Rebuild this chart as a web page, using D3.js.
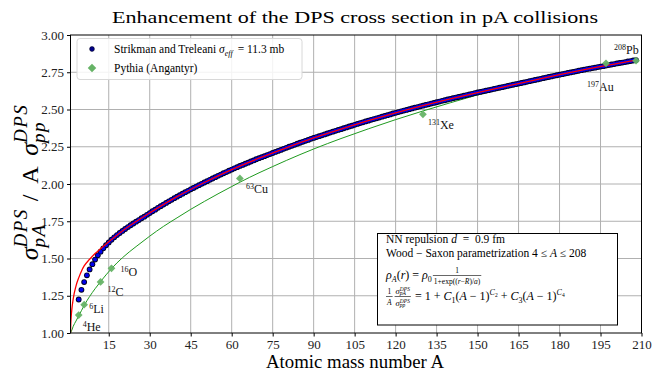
<!DOCTYPE html>
<html>
<head>
<meta charset="utf-8">
<script src="https://cdn.jsdelivr.net/npm/d3@7"></script>
<style>
  body { margin: 0; background: #fff; }
  text { font-family: "Liberation Serif", "DejaVu Serif", serif; white-space: pre; }
</style>
</head>
<body>
<svg id="chart" width="652" height="376" font-family="Liberation Serif, serif"></svg>
<script>
// Strikman-Treleani points, one per mass number A = 4 ... 208
const A_DOTS = d3.range(4, 209)
const RATIO_ST = [
  1.225, 1.290, 1.342, 1.387, 1.427, 1.462, 1.493, 1.521, 1.546, 1.568, 1.589, 1.608, 1.626, 1.642, 1.657, 1.671, 1.685,
  1.698, 1.711, 1.723, 1.735, 1.747, 1.758, 1.770, 1.781, 1.793, 1.805,
  1.817, 1.828, 1.840, 1.851, 1.862, 1.873, 1.884, 1.894, 1.905, 1.915,
  1.925, 1.935, 1.945, 1.954, 1.964, 1.973, 1.983, 1.992, 2.001, 2.010,
  2.019, 2.028, 2.037, 2.046, 2.055, 2.063, 2.072, 2.080, 2.089, 2.097,
  2.105, 2.113, 2.121, 2.128, 2.136, 2.143, 2.151, 2.158, 2.166, 2.173,
  2.180, 2.187, 2.194, 2.201, 2.208, 2.215, 2.222, 2.229, 2.236, 2.243,
  2.250, 2.256, 2.263, 2.270, 2.277, 2.283, 2.290, 2.296, 2.303, 2.309,
  2.315, 2.321, 2.327, 2.333, 2.339, 2.345, 2.351, 2.357, 2.363, 2.368,
  2.374, 2.380, 2.386, 2.391, 2.397, 2.403, 2.409, 2.414, 2.420, 2.425,
  2.431, 2.436, 2.441, 2.446, 2.452, 2.457, 2.462, 2.467, 2.473, 2.478,
  2.483, 2.488, 2.493, 2.497, 2.502, 2.507, 2.512, 2.516, 2.521, 2.526,
  2.531, 2.535, 2.540, 2.544, 2.549, 2.553, 2.558, 2.562, 2.567, 2.571,
  2.576, 2.580, 2.584, 2.588, 2.593, 2.597, 2.601, 2.605, 2.610, 2.614,
  2.618, 2.622, 2.626, 2.630, 2.634, 2.638, 2.642, 2.646, 2.650, 2.654,
  2.658, 2.662, 2.666, 2.670, 2.674, 2.678, 2.682, 2.686, 2.690, 2.694,
  2.698, 2.702, 2.706, 2.710, 2.714, 2.718, 2.722, 2.726, 2.730, 2.734,
  2.737, 2.741, 2.745, 2.749, 2.752, 2.756, 2.760, 2.764, 2.767, 2.771,
  2.774, 2.778, 2.781, 2.785, 2.788, 2.791, 2.795, 2.798, 2.802, 2.805,
  2.809, 2.812, 2.815, 2.818, 2.822, 2.825, 2.829, 2.832]

// red fit through the Strikman-Treleani points
const FIT_A = [1, 1.1, 1.25, 1.5, 2, 3, 4, 5, 6, 8, 10, 12, 15, 20, 25, 30, 40, 50, 60, 70, 80, 90, 100, 110, 120, 130, 140, 150, 160, 170, 180, 190, 200, 208]
const FIT_ST = [1.0, 1.06, 1.11, 1.16, 1.23, 1.315, 1.37, 1.415, 1.45, 1.495, 1.533, 1.565, 1.612, 1.685, 1.748, 1.806, 1.915, 2.01, 2.097, 2.173, 2.243, 2.309, 2.368, 2.425, 2.478, 2.526, 2.571, 2.614, 2.654, 2.694, 2.734, 2.771, 2.805, 2.832]

// green fit through the Pythia points
const PY_FIT_A = [1, 1.5, 2, 3, 4, 5, 6, 8, 10, 12, 14, 16, 20, 25, 30, 35, 40, 45, 50, 55, 60, 63, 70, 75, 80, 90, 100, 110, 120, 130, 140, 150, 160, 170, 180, 190, 200, 208]
const PY_FIT = [1.0, 1.02, 1.045, 1.08, 1.115, 1.15, 1.185, 1.245, 1.297, 1.345, 1.39, 1.432, 1.505, 1.58, 1.65, 1.715, 1.773, 1.83, 1.883, 1.934, 1.983, 2.012, 2.075, 2.117, 2.158, 2.235, 2.305, 2.37, 2.432, 2.49, 2.545, 2.598, 2.646, 2.692, 2.735, 2.775, 2.806, 2.83]

// Pythia (Angantyr) nuclei
const PY_A = [4, 6, 12, 16, 63, 130, 197, 208]
const PY_VAL = [1.12, 1.19, 1.343, 1.434, 2.037, 2.468, 2.81, 2.828]
const PY_MASS = ["4", "6", "12", "16", "63", "131", "197", "208"]
const PY_NUC = ["He", "Li", "C", "O", "Cu", "Xe", "Au", "Pb"]
const LABEL_DX = [4, 5, 7, 9, 6, 5, -19, -22]
const LABEL_DY = [16, 8, 14, 8, 15, 15, 28, -7]

const X_TICKS = [15, 30, 45, 60, 75, 90, 105, 120, 135, 150, 165, 180, 195, 210]
const Y_TICKS = [1.0, 1.25, 1.5, 1.75, 2.0, 2.25, 2.5, 2.75, 3.0]

const SERIF = "Liberation Serif, DejaVu Serif, serif"
const svg = d3.select("#chart")
const x = d3.scaleLinear().domain([1, 210]).range([70.5, 641.5])
const y = d3.scaleLinear().domain([1, 3]).range([333, 35])

// places a run of text pieces (with scripts and fractions), returns its width
function txt(parent, s, px, py, p) {
    return parent.append("text")
        .attr("x", px).attr("y", py)
        .attr("font-family", SERIF)
        .attr("font-size", p.s)
        .attr("font-style", p.i ? "italic" : "normal")
        .attr("letter-spacing", p.ls || null)
        .attr("fill", "#000")
        .text(s)
}
function layout(parent, pieces, x0, base) {
    let cx = x0
    pieces.forEach(p => {
        if (p.frac) {
            const gN = parent.append("g"), gD = parent.append("g")
            const wn = layout(gN, p.num, 0, base - p.up)
            const wd = layout(gD, p.den, 0, base + p.down)
            const w = Math.max(wn, wd) + 2
            gN.attr("transform", `translate(${cx + (w - wn) / 2},0)`)
            gD.attr("transform", `translate(${cx + (w - wd) / 2},0)`)
            parent.append("line")
                .attr("x1", cx).attr("x2", cx + w)
                .attr("y1", base - p.bar).attr("y2", base - p.bar)
                .attr("stroke", "#000").attr("stroke-width", 0.6)
            cx += w + (p.gap || 1)
        } else if (p.sup !== undefined || p.sub !== undefined) {
            let w = 0
            if (p.sup) w = Math.max(w, txt(parent, p.sup, cx, base - p.su, p).node().getComputedTextLength())
            if (p.sub) w = Math.max(w, txt(parent, p.sub, cx, base + p.sd, p).node().getComputedTextLength())
            cx += w + (p.gap || 0)
        } else {
            cx += txt(parent, p.t, cx, base, p).node().getComputedTextLength()
        }
    })
    return cx - x0
}

// grid
svg.append("g").selectAll("line")
    .data(X_TICKS.filter(d => d < 210))
    .join("line")
    .attr("x1", d => x(d)).attr("x2", d => x(d))
    .attr("y1", y(1)).attr("y2", y(3))
    .attr("stroke", "#b0b0b0").attr("stroke-width", 1)
svg.append("g").selectAll("line")
    .data(Y_TICKS.filter(d => d > 1 && d < 3))
    .join("line")
    .attr("x1", x(1)).attr("x2", x(210))
    .attr("y1", d => y(d)).attr("y2", d => y(d))
    .attr("stroke", "#b0b0b0").attr("stroke-width", 1)

// axes
const xAxis = svg.append("g")
    .attr("transform", `translate(0,${y(1)})`)
    .call(d3.axisBottom(x).tickValues(X_TICKS).tickSize(3.5).tickPadding(3))
const yAxis = svg.append("g")
    .attr("transform", `translate(${x(1)},0)`)
    .call(d3.axisLeft(y).tickValues(Y_TICKS).tickFormat(d3.format(".2f")).tickSize(3.5).tickPadding(3))
;[xAxis, yAxis].forEach(a => {
    a.select(".domain").remove()
    a.attr("font-family", SERIF).attr("font-size", 13)
    a.selectAll("text").attr("fill", "#222")
})

// curves
svg.append("clipPath").attr("id", "plot")
    .append("rect").attr("x", x(1)).attr("y", y(3)).attr("width", x(210) - x(1)).attr("height", y(1) - y(3))
const plot = svg.append("g").attr("clip-path", "url(#plot)")

const line = d3.line().curve(d3.curveMonotoneX).x(d => x(d[0])).y(d => y(d[1]))
const stData = A_DOTS.map((a, i) => [a, RATIO_ST[i]])

plot.append("path")
    .datum(PY_FIT_A.map((a, i) => [a, PY_FIT[i]]))
    .attr("d", line)
    .attr("fill", "none").attr("stroke", "#1f9a1f").attr("stroke-width", 1)

// dark marker edges first, blue faces on top
plot.append("g").selectAll("circle")
    .data(stData)
    .join("circle")
    .attr("cx", d => x(d[0])).attr("cy", d => y(d[1]))
    .attr("r", 2.9)
    .attr("fill", "#000024")
plot.append("g").selectAll("circle")
    .data(stData)
    .join("circle")
    .attr("cx", d => x(d[0])).attr("cy", d => y(d[1]))
    .attr("r", 2.0)
    .attr("fill", "#0000f0")

plot.append("path")
    .datum(FIT_A.map((a, i) => [a, FIT_ST[i]]))
    .attr("d", line)
    .attr("fill", "none").attr("stroke", "#ff0000").attr("stroke-width", 1.3)

const diamond = d3.symbol(d3.symbolSquare, 30)
svg.append("g").selectAll("path")
    .data(PY_A.map((a, i) => [a, PY_VAL[i]]))
    .join("path")
    .attr("d", diamond)
    .attr("transform", d => `translate(${x(d[0])},${y(d[1])}) rotate(45)`)
    .attr("fill", "#66b366").attr("opacity", 0.95)

const labels = svg.append("g")
PY_A.forEach((a, i) => {
    const t = labels.append("text")
        .attr("x", x(a) + LABEL_DX[i]).attr("y", y(PY_VAL[i]) + LABEL_DY[i])
        .attr("font-family", SERIF)
        .attr("font-size", 12).attr("fill", "#111")
    t.append("tspan").attr("font-size", 8).attr("dy", -4).text(PY_MASS[i])
    t.append("tspan").attr("dy", 4).text(PY_NUC[i])
})

// frame
svg.append("rect")
    .attr("x", x(1)).attr("y", y(3)).attr("width", x(210) - x(1)).attr("height", y(1) - y(3))
    .attr("fill", "none").attr("stroke", "#000").attr("stroke-width", 1)

// legend
const leg = svg.append("g")
leg.append("rect")
    .attr("x", 77).attr("y", 38.5).attr("width", 225).attr("height", 41).attr("rx", 3)
    .attr("fill", "#fff").attr("fill-opacity", 0.85).attr("stroke", "#d8d8d8")
leg.append("circle").attr("cx", 92).attr("cy", 49).attr("r", 2.4)
    .attr("fill", "#00008b").attr("stroke", "#000020").attr("stroke-width", 0.6)
leg.append("path").attr("d", d3.symbol(d3.symbolSquare, 36))
    .attr("transform", "translate(92,68) rotate(45)").attr("fill", "#66b366")
layout(leg, [
    { t: "Strikman and Treleani ", s: 11.5 },
    { t: "σ", s: 11.5, i: true },
    { sub: "eff", s: 8, i: true, sd: 3, gap: 2 },
    { t: " = 11.3 mb", s: 11.5 }
], 114, 53)
layout(leg, [{ t: "Pythia (Angantyr)", s: 11.5 }], 114, 72)

// annotation box
const box = svg.append("g")
box.append("rect").attr("x", 377.5).attr("y", 233.5).attr("width", 240).attr("height", 91.5)
    .attr("fill", "#fff").attr("stroke", "#000").attr("stroke-width", 1)
layout(box, [
    { t: "NN repulsion ", s: 11.5 }, { t: "d", s: 11.5, i: true }, { t: "  =  0.9 fm", s: 11.5 }
], 386, 243)
layout(box, [
    { t: "Wood − Saxon parametrization 4 ≤ ", s: 11.5 }, { t: "A", s: 11.5, i: true }, { t: " ≤ 208", s: 11.5 }
], 386, 257)
layout(box, [
    { t: "ρ", s: 12, i: true }, { sub: "A", s: 8, i: true, sd: 3 },
    { t: "(", s: 12 }, { t: "r", s: 12, i: true }, { t: ") = ", s: 12 },
    { t: "ρ", s: 12, i: true }, { sub: "0", s: 8, sd: 3, gap: 1 },
    { frac: true, up: 6.5, down: 4.5, bar: 3.5,
      num: [{ t: "1", s: 7.5 }],
      den: [{ t: "1+exp((", s: 7.5 }, { t: "r", s: 7.5, i: true }, { t: "−", s: 7.5 }, { t: "R", s: 7.5, i: true },
            { t: ")/", s: 7.5 }, { t: "a", s: 7.5, i: true }, { t: ")", s: 7.5 }] }
], 386, 279)
layout(box, [
    { frac: true, up: 6.5, down: 4.5, bar: 3.5, gap: 2, num: [{ t: "1", s: 7.5 }], den: [{ t: "A", s: 7.5, i: true }] },
    { frac: true, up: 6.5, down: 5.5, bar: 3.5,
      num: [{ t: "σ", s: 8.5, i: true }, { sup: "DPS", sub: "pA", s: 5.5, i: true, su: 3, sd: 1.5 }],
      den: [{ t: "σ", s: 8.5, i: true }, { sup: "DPS", sub: "pp", s: 5.5, i: true, su: 3, sd: 1.5 }] },
    { t: " = 1 + ", s: 12 },
    { t: "C", s: 12, i: true }, { sub: "1", s: 8, sd: 3 },
    { t: "(", s: 12 }, { t: "A", s: 12, i: true }, { t: " − 1)", s: 12 },
    { sup: "C", s: 8, i: true, su: 5 }, { sub: "2", s: 5.5, sd: -3 },
    { t: " + ", s: 12 },
    { t: "C", s: 12, i: true }, { sub: "3", s: 8, sd: 3 },
    { t: "(", s: 12 }, { t: "A", s: 12, i: true }, { t: " − 1)", s: 12 },
    { sup: "C", s: 8, i: true, su: 5 }, { sub: "4", s: 5.5, sd: -3 }
], 386, 300)

// title and axis labels
svg.append("text")
    .attr("x", 355).attr("y", 23).attr("text-anchor", "middle")
    .attr("font-family", SERIF)
    .attr("font-size", 17).attr("textLength", 486).attr("lengthAdjust", "spacingAndGlyphs")
    .text("Enhancement of the DPS cross section in pA collisions")
svg.append("text")
    .attr("x", 355).attr("y", 368).attr("text-anchor", "middle")
    .attr("font-family", SERIF)
    .attr("font-size", 19).attr("textLength", 178).attr("lengthAdjust", "spacingAndGlyphs")
    .text("Atomic mass number A")

const yl = svg.append("g").attr("transform", "translate(38,182) rotate(-90)")
const ylIn = yl.append("g")
const ylW = layout(ylIn, [
    { t: "σ", s: 26, i: true }, { sup: "DPS", sub: "pA", s: 19, i: true, ls: 1.5, su: 11, sd: 7, gap: 7 },
    { t: "/  A  ", s: 24 },
    { t: "σ", s: 26, i: true }, { sup: "DPS", sub: "pp", s: 19, i: true, ls: 1.5, su: 11, sd: 7 }
], 0, 0)
ylIn.attr("transform", `translate(${-ylW / 2},0)`)
</script>
</body>
</html>
